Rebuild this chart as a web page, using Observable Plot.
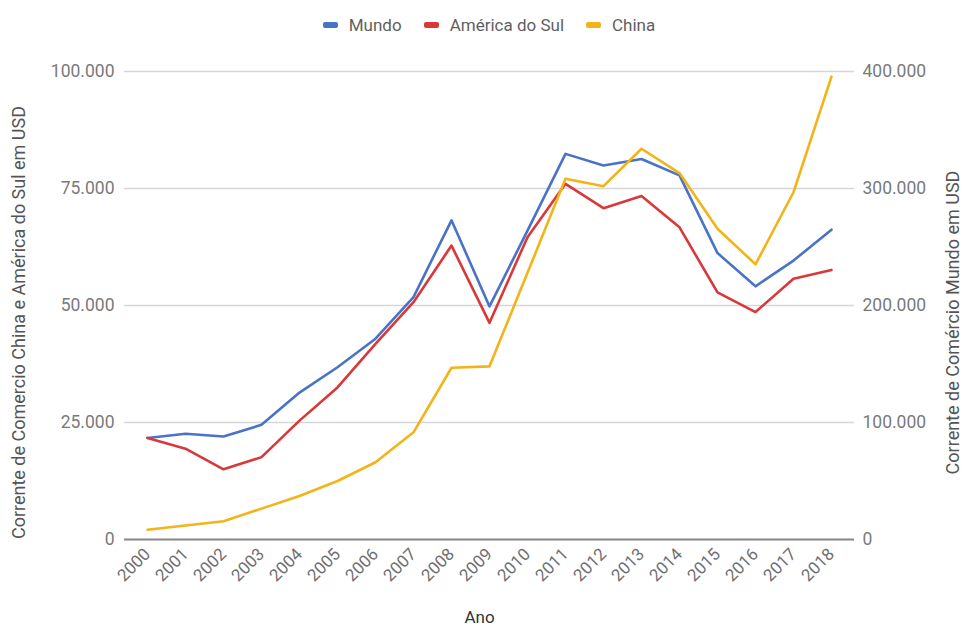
<!DOCTYPE html>
<html>
<head>
<meta charset="utf-8">
<script src="https://cdn.jsdelivr.net/npm/d3@7"></script>
<script src="https://cdn.jsdelivr.net/npm/@observablehq/plot@0.6"></script>
<style>
  html, body { margin: 0; padding: 0; background: #fff; }
  body { width: 966px; height: 631px; overflow: hidden; font-family: Roboto, "Noto Sans", sans-serif; }
  #legend { height: 50px; display: flex; justify-content: center; align-items: center; gap: 22px; padding-left: 12px; box-sizing: border-box; font-size: 17px; color: #5f5f5f; }
  #legend .item { display: flex; align-items: center; gap: 11px; }
  #legend .sw { width: 15px; height: 6px; border-radius: 2px; display: inline-block; }
</style>
</head>
<body>
<div id="legend"></div>
<div id="chart"></div>
<script>
// Years on the horizontal axis
const years = ["2000","2001","2002","2003","2004","2005","2006","2007","2008","2009",
               "2010","2011","2012","2013","2014","2015","2016","2017","2018"];

// Trade flow (USD), left axis
const americaDoSul = [21700, 19400, 15000, 17600, 25400, 32500, 41800, 50700, 62800, 46300,
                      64600, 76000, 70800, 73400, 66700, 52800, 48600, 55700, 57600];
const china = [2100, 3000, 3900, 6600, 9300, 12500, 16500, 22900, 36700, 37000,
               57000, 77100, 75500, 83500, 78300, 66400, 58800, 74200, 98900];

// Trade flow (USD), right axis
const mundo = [86800, 90400, 88000, 98000, 125600, 147200, 171600, 207200, 272800, 199200,
               264000, 329600, 319600, 325200, 311200, 244800, 216400, 238400, 264800];

// Axis tick values
const leftTicks = [0, 25000, 50000, 75000, 100000];
const rightTicks = [0, 100000, 200000, 300000, 400000];
const ratio = 400000 / 100000; // right axis max / left axis max

const series = [
  { name: "Mundo", color: "#4a72c6", values: mundo, axis: "right" },
  { name: "América do Sul", color: "#d9383a", values: americaDoSul, axis: "left" },
  { name: "China", color: "#f2b418", values: china, axis: "left" }
];

const rows = series.flatMap(s => s.values.map((v, i) => ({
  series: s.name,
  year: years[i],
  value: v,
  // right-axis series are drawn in the left-axis units
  y: s.axis === "right" ? v / ratio : v
})));

const br = d3.formatLocale({ decimal: ",", thousands: ".", grouping: [3], currency: ["R$", ""] });
const fmt = br.format(",d");

// Legend above the chart
const legend = document.getElementById("legend");
for (const s of series) {
  const item = document.createElement("div");
  item.className = "item";
  const sw = document.createElement("span");
  sw.className = "sw";
  sw.style.background = s.color;
  const label = document.createElement("span");
  label.textContent = s.name;
  item.append(sw, label);
  legend.append(item);
}

const chart = Plot.plot({
  width: 966,
  height: 581,
  marginTop: 21,
  marginBottom: 92,
  marginLeft: 124,
  marginRight: 112,
  style: { fontFamily: "Roboto, 'Noto Sans', sans-serif", background: "#fff" },
  x: { type: "point", domain: years, padding: 0.5 },
  y: { domain: [0, 100000] },
  color: { domain: series.map(s => s.name), range: series.map(s => s.color) },
  marks: [
    Plot.gridY(leftTicks, { stroke: "#d6d6d6", strokeOpacity: 1, strokeWidth: 1.5 }),
    Plot.axisY(leftTicks, {
      anchor: "left", tickSize: 0, tickPadding: 10, tickFormat: fmt,
      fontSize: 17.5, fill: "#7a7a7a", label: null
    }),
    Plot.axisY(rightTicks.map(t => t / ratio), {
      anchor: "right", tickSize: 0, tickPadding: 8, tickFormat: d => fmt(d * ratio),
      fontSize: 17.5, fill: "#7a7a7a", label: null
    }),
    Plot.axisX({
      tickSize: 0, tickPadding: 12, tickRotate: -45, fontSize: 17,
      fill: "#6f6f6f", label: null
    }),
    Plot.ruleY([0], { stroke: "#8a8a8a", strokeWidth: 2 }),
    Plot.line(rows, {
      x: "year", y: "y", z: "series", stroke: "series",
      strokeWidth: 2.6, strokeLinejoin: "round", strokeLinecap: "round"
    }),
    Plot.text(["Corrente de Comercio China e América do Sul em USD"], {
      frameAnchor: "left", textAnchor: "middle", rotate: -90, dx: -105, dy: 17,
      fontSize: 18, fill: "#555"
    }),
    Plot.text(["Corrente de Comércio Mundo em USD"], {
      frameAnchor: "right", textAnchor: "middle", rotate: -90, dx: 99, dy: 17,
      fontSize: 18, fill: "#555"
    }),
    Plot.text(["Ano"], {
      frameAnchor: "bottom", dx: -10, dy: 83,
      fontSize: 17, fill: "#333"
    })
  ]
});

document.getElementById("chart").append(chart);
</script>
</body>
</html>
